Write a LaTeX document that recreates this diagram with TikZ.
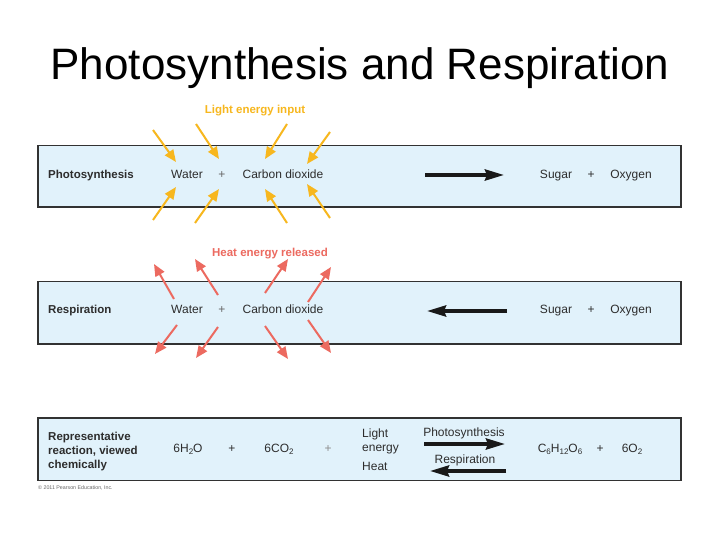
\documentclass[tikz,border=0pt]{standalone}
\usepackage{fontspec}
\setmainfont{Liberation Sans}
\usetikzlibrary{arrows.meta}
\definecolor{bandfill}{RGB}{225,242,251}
\definecolor{bandline}{RGB}{50,50,50}
\definecolor{lightc}{RGB}{247,183,30}
\definecolor{heatc}{RGB}{236,106,96}
\definecolor{txtc}{RGB}{45,45,45}
\newcommand\chsub[1]{\raisebox{-0.45ex}{\fontsize{8}{8}\selectfont #1}}
\begin{document}
\begin{tikzpicture}[x=1pt,y=-1pt,
  band/.style={draw=bandline, line width=1.7pt, fill=bandfill},
  txt/.style={inner sep=0pt, anchor=base, text=txtc, font=\fontsize{12}{14}\selectfont},
  lbl/.style={inner sep=0pt, anchor=base west, text=txtc, font=\bfseries\fontsize{11.5}{14}\selectfont, align=left},
  lightarrow/.style={draw=lightc, line width=2pt, -{Triangle[length=12pt,width=10pt]}},
  heatarrow/.style={draw=heatc, line width=2pt, -{Triangle[length=12pt,width=10pt]}},
  bigarrow/.style={draw=black!90, line width=3.6pt, -{Stealth[length=19pt,width=11pt,inset=2pt]}}
]
\useasboundingbox (0,0) rectangle (720,540);
\fill[white] (0,0) rectangle (720,540);

% title
\node[inner sep=0pt, anchor=base, font=\fontsize{44}{50}\selectfont] (title) at (360,80) {Photosynthesis and Respiration};

% bands
\path[band] (38,145.5) rectangle (681,207);
\path[band] (38,281.5) rectangle (681,344);
\path[band] (38,418) rectangle (681,480.5);

% row 1
\node[lbl] (ps) at (48,178.5) {Photosynthesis};
\node[txt] (w1) at (187,178.5) {Water};
\node[txt, text=black!60] (p1) at (222,178.5) {+};
\node[txt] (c1) at (283,178.5) {Carbon dioxide};
\node[txt] (s1) at (556,178.5) {Sugar};
\node[txt] (p1b) at (591,178.5) {+};
\node[txt] (o1) at (631,178.5) {Oxygen};
\coordinate (a1s) at (425,175);
\coordinate (a1e) at (504,175);
\draw[bigarrow] (a1s) -- (a1e);

% light
\node[inner sep=0pt, anchor=base, text=lightc, font=\bfseries\fontsize{11.5}{14}\selectfont] (light) at (255,114) {Light energy input};
\foreach \i/\xa/\ya/\xb/\yb in {1/153/130/176/162, 2/196/124/219/159, 3/287/124/265/159, 4/330/132/307/164,
  5/153/220/176/187, 6/195/223/219/189, 7/287/223/265/189, 8/330/218/307/184}{
  \coordinate (ls\i) at (\xa,\ya);
  \coordinate (le\i) at (\xb,\yb);
  \draw[lightarrow] (ls\i) -- (le\i);
}

% row 2
\node[lbl] (rs) at (48,313.5) {Respiration};
\node[txt] (w2) at (187,313.5) {Water};
\node[txt, text=black!60] (p2) at (222,313.5) {+};
\node[txt] (c2) at (283,313.5) {Carbon dioxide};
\node[txt] (s2) at (556,313.5) {Sugar};
\node[txt] (p2b) at (591,313.5) {+};
\node[txt] (o2) at (631,313.5) {Oxygen};
\coordinate (a2s) at (507,311);
\coordinate (a2e) at (427,311);
\draw[bigarrow] (a2s) -- (a2e);

% heat
\node[inner sep=0pt, anchor=base, text=heatc, font=\bfseries\fontsize{11.5}{14}\selectfont] (heat) at (270,256) {Heat energy released};
\foreach \i/\xa/\ya/\xb/\yb in {1/174/299/154/264, 2/218/295/195/259, 3/265/293/288/259, 4/308/302/331/267,
  5/177/325/155/354, 6/218/327/196/358, 7/265/326/288/359, 8/308/320/331/353}{
  \coordinate (hs\i) at (\xa,\ya);
  \coordinate (he\i) at (\xb,\yb);
  \draw[heatarrow] (hs\i) -- (he\i);
}

% row 3
\node[lbl, anchor=north west] (rep) at (48,431.5) {Representative\\reaction, viewed\\chemically};
\node[txt] (h2o) at (188,452) {6H\chsub{2}O};
\node[txt] (p3) at (232,452) {+};
\node[txt] (co2) at (279,452) {6CO\chsub{2}};
\node[txt, text=black!45] (p3b) at (328,452) {+};
\node[txt, anchor=base west] (le) at (362,437) {Light};
\node[txt, anchor=base west] (en) at (362,451) {energy};
\node[txt, anchor=base west] (ht) at (362,470) {Heat};
\node[txt] (phl) at (464,436) {Photosynthesis};
\node[txt] (rsl) at (465,463) {Respiration};
\coordinate (a3s) at (424,444);
\coordinate (a3e) at (505,444);
\draw[bigarrow] (a3s) -- (a3e);
\coordinate (a4s) at (506,471);
\coordinate (a4e) at (430,471);
\draw[bigarrow] (a4s) -- (a4e);
\node[txt] (glc) at (560,452) {C\chsub{6}H\chsub{12}O\chsub{6}};
\node[txt] (p4) at (600,452) {+};
\node[txt] (o2b) at (632,452) {6O\chsub{2}};

\node[inner sep=0pt, anchor=base west, text=black!60, font=\fontsize{5.3}{6}\selectfont] (copy) at (38,489) {\textcopyright{} 2011 Pearson Education, Inc.};
\end{tikzpicture}
\end{document}
